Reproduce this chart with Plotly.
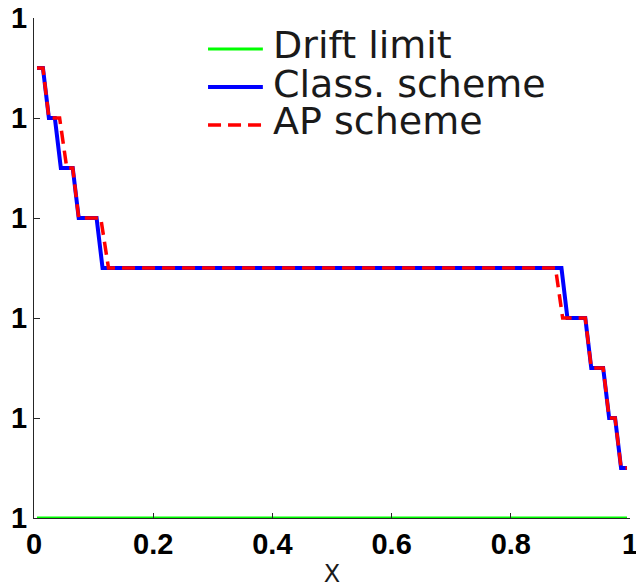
import plotly.graph_objects as go

# Cell-centre positions and values of the two schemes (values sit just above 1)
class_x = [0.005, 0.015, 0.025, 0.035, 0.045, 0.065, 0.075, 0.105, 0.115,
           0.885, 0.895, 0.925, 0.935, 0.955, 0.965, 0.975, 0.985, 0.995]
class_y = [1.000045, 1.000045, 1.00004, 1.00004, 1.000035, 1.000035, 1.00003, 1.00003, 1.000025,
           1.000025, 1.00002, 1.00002, 1.000015, 1.000015, 1.00001, 1.00001, 1.000005, 1.000005]

ap_x = [0.005, 0.015, 0.025, 0.043, 0.055, 0.065, 0.075, 0.112, 0.125,
        0.875, 0.887, 0.925, 0.935, 0.955, 0.965, 0.975, 0.985, 0.995]
ap_y = [1.000045, 1.000045, 1.00004, 1.00004, 1.000035, 1.000035, 1.00003, 1.00003, 1.000025,
        1.000025, 1.00002, 1.00002, 1.000015, 1.000015, 1.00001, 1.00001, 1.000005, 1.000005]

drift_x = [0.005, 0.995]
drift_y = [1.0, 1.0]

x_ticks = [0, 0.2, 0.4, 0.6, 0.8, 1]
x_tick_labels = ["0", "0.2", "0.4", "0.6", "0.8", "1"]
y_ticks = [1.0, 1.00001, 1.00002, 1.00003, 1.00004, 1.00005]
y_tick_labels = ["1", "1", "1", "1", "1", "1"]

series = [
    dict(name="Drift limit", x=drift_x, y=drift_y, color="#00ff00", width=3, dash="solid"),
    dict(name="Class. scheme", x=class_x, y=class_y, color="#0000ff", width=4, dash="solid"),
    dict(name="AP scheme", x=ap_x, y=ap_y, color="#ff0000", width=3.5, dash="13px,7px"),
]

fig = go.Figure()
for s in series:
    fig.add_trace(go.Scatter(
        x=s["x"], y=s["y"], mode="lines", name=s["name"], showlegend=False,
        cliponaxis=False,
        line=dict(color=s["color"], width=s["width"], dash=s["dash"]),
    ))

# Hand-built legend: short line sample plus label for each series
legend_font = dict(family="DejaVu Sans", size=38, color="#1a1a1a")
sample_y = [0.938, 0.862, 0.786]
text_y = [0.947, 0.868, 0.793]
for s, sy, ty in zip(series, sample_y, text_y):
    fig.add_shape(type="line", xref="paper", yref="paper",
                  x0=0.292, x1=0.384, y0=sy, y1=sy,
                  line=dict(color=s["color"], width=s["width"], dash=s["dash"]))
    fig.add_annotation(xref="paper", yref="paper", x=0.397, y=ty,
                       xanchor="left", yanchor="middle", showarrow=False,
                       text=s["name"], font=legend_font)

axis_color = "#262626"
tick_font = dict(family="Liberation Sans", size=29, color="#000000", weight="bold")

fig.update_layout(
    width=636, height=588,
    margin=dict(l=34, r=6, t=18, b=70),
    paper_bgcolor="white", plot_bgcolor="white",
    xaxis=dict(
        range=[0, 1], tickvals=x_ticks, ticktext=x_tick_labels,
        showgrid=False, zeroline=False, showline=True, linecolor=axis_color, linewidth=1,
        ticks="inside", ticklen=5, tickcolor=axis_color, tickwidth=1,
        tickfont=tick_font, ticklabeloverflow="allow", automargin=False,
        title=dict(text="X", font=dict(family="DejaVu Sans", size=24, color="#1a1a1a"), standoff=12),
    ),
    yaxis=dict(
        range=[1.0, 1.00005], tickvals=y_ticks, ticktext=y_tick_labels,
        showgrid=False, zeroline=False, showline=True, linecolor=axis_color, linewidth=1,
        ticks="inside", ticklen=6, tickcolor=axis_color, tickwidth=1,
        tickfont=tick_font, ticklabeloverflow="allow", automargin=False,
    ),
)

fig.write_html("out.html")
